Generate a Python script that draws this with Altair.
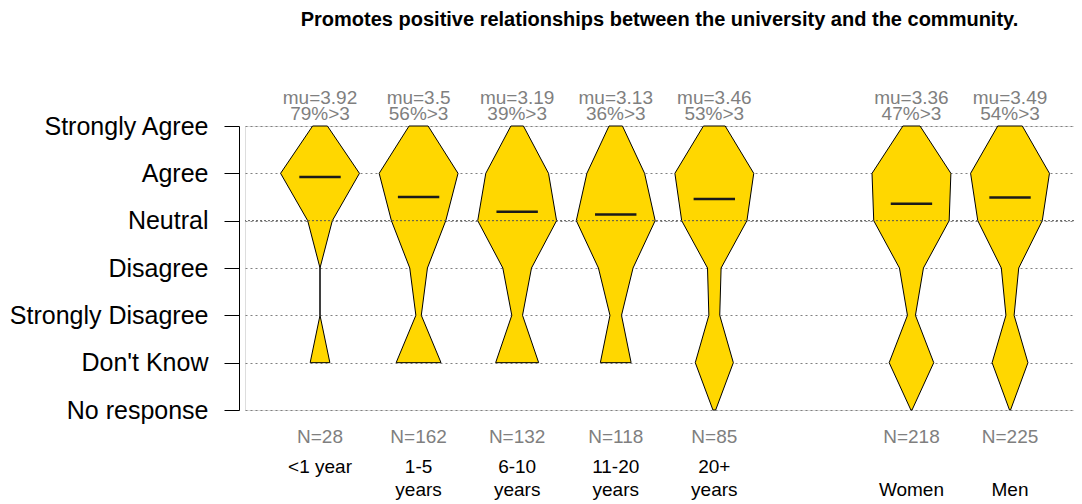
import altair as alt
import pandas as pd

title_text = "Promotes positive relationships between the university and the community."

levels = ["Strongly Agree", "Agree", "Neutral", "Disagree", "Strongly Disagree", "Don't Know", "No response"]
level_values = [5, 4, 3, 2, 1, 0, -1]

categories = ["<1 year", "1-5\nyears", "6-10\nyears", "11-20\nyears", "20+\nyears", "\nWomen", "\nMen"]
groups = ["tenure", "tenure", "tenure", "tenure", "tenure", "gender", "gender"]

# response counts per level (SA, A, N, D, SD, DK, NR)
counts_lt1 = [3, 16, 5, 0, 0, 4, 0]
counts_1_5 = [14, 58, 40, 13, 4, 33, 0]
counts_6_10 = [7, 35, 44, 16, 6, 24, 0]
counts_11_20 = [7, 30, 41, 18, 6, 16, 0]
counts_20p = [8, 29, 24, 5, 4, 14, 1]
counts_women = [15, 69, 66, 21, 7, 39, 1]
counts_men = [24, 77, 63, 17, 8, 35, 1]
all_counts = [counts_lt1, counts_1_5, counts_6_10, counts_11_20, counts_20p, counts_women, counts_men]

mu = [3.92, 3.5, 3.19, 3.13, 3.46, 3.36, 3.49]
pct_above = [79, 56, 39, 36, 53, 47, 54]
n_resp = [28, 162, 132, 118, 85, 218, 225]

HALF = 0.4   # max half-width of a violin, in x units
MEAN_HALF = 0.21

# x position: one slot per category, with an empty slot between groups
positions = []
p = 0
prev = None
for g in groups:
    p += 1 if prev in (None, g) else 2
    positions.append(p)
    prev = g

rows = []
for cat, pos, cnts in zip(categories, positions, all_counts):
    m = max(cnts)
    nz = [i for i, c in enumerate(cnts) if c > 0]
    for i in range(nz[-1], nz[0] - 1, -1):
        hw = HALF * cnts[i] / m
        rows.append({"cat": cat, "level": level_values[i], "left": pos - hw, "right": pos + hw})
violin_df = pd.DataFrame(rows)

info_df = pd.DataFrame({
    "cat": categories,
    "pos": positions,
    "mu": mu,
    "mu_label": [f"mu={v:g}" for v in mu],
    "pct_label": [f"{v}%>3" for v in pct_above],
    "n_label": [f"N={v}" for v in n_resp],
    "top": [level_values[0]] * len(categories),
    "bottom": [level_values[-1]] * len(categories),
})
info_df["mlo"] = info_df["pos"] - MEAN_HALF
info_df["mhi"] = info_df["pos"] + MEAN_HALF

W, H = 829, 284
xscale = alt.Scale(domain=[0.239, 8.649], nice=False, zero=False)
yscale = alt.Scale(domain=[level_values[-1], level_values[0]], nice=False, zero=False)

label_expr = " : ".join(
    [f"datum.value == {v} ? \"{l}\"" for v, l in zip(level_values, levels)]
) + " : ''"

base_y_axis = alt.Axis(
    values=level_values, labelExpr=label_expr, title=None,
    labelFontSize=25, labelColor="black", labelPadding=16, labelLimit=400,
    tickSize=15, tickColor="black", domainColor="black", offset=6,
    grid=True, gridDash=[2, 3], gridColor="#808080", gridWidth=1,
)

violins = alt.Chart(violin_df).mark_area(
    orient="horizontal", fill="#FFD700", stroke="black", strokeWidth=1, interpolate="linear"
).encode(
    x=alt.X("left:Q", scale=xscale, axis=None, stack=None),
    x2="right:Q",
    y=alt.Y("level:Q", scale=yscale, axis=base_y_axis),
    detail="cat:N",
)

neutral = alt.Chart(pd.DataFrame({"level": [3]})).mark_rule(
    color="#555555", strokeDash=[2, 2], strokeWidth=1
).encode(y=alt.Y("level:Q", scale=yscale))

means = alt.Chart(info_df).mark_rule(color="#1a1a1a", strokeWidth=2.5).encode(
    x=alt.X("mlo:Q", scale=xscale), x2="mhi:Q", y=alt.Y("mu:Q", scale=yscale)
)

txt_kw = dict(font="Liberation Sans", fontSize=19, align="center", baseline="alphabetic")

mu_text = alt.Chart(info_df).mark_text(color="#7f7f7f", dy=-22, **txt_kw).encode(
    x=alt.X("pos:Q", scale=xscale), y=alt.Y("top:Q", scale=yscale), text="mu_label:N"
)
pct_text = alt.Chart(info_df).mark_text(color="#7f7f7f", dy=-6, **txt_kw).encode(
    x=alt.X("pos:Q", scale=xscale), y=alt.Y("top:Q", scale=yscale), text="pct_label:N"
)
n_text = alt.Chart(info_df).mark_text(color="#7f7f7f", dy=33, **txt_kw).encode(
    x=alt.X("pos:Q", scale=xscale), y=alt.Y("bottom:Q", scale=yscale), text="n_label:N"
)
cat_text = alt.Chart(info_df).mark_text(
    color="black", dy=63, lineBreak="\n", lineHeight=23, **txt_kw
).encode(
    x=alt.X("pos:Q", scale=xscale), y=alt.Y("bottom:Q", scale=yscale), text="cat:N"
)

chart = alt.layer(
    violins, neutral, means, mu_text, pct_text, n_text, cat_text
).properties(
    width=W, height=H,
    title=alt.TitleParams(
        title_text, fontSize=20, fontWeight="bold", font="Liberation Sans",
        anchor="middle", frame="group", baseline="alphabetic", offset=43, color="black",
    ),
    autosize=alt.AutoSizeParams(type="none"),
    padding={"left": 237, "top": 118, "right": 0, "bottom": 94},
).configure_view(stroke=None).configure(font="Liberation Sans")

chart.save("out.html", embed_options={"renderer": "svg", "actions": False})
